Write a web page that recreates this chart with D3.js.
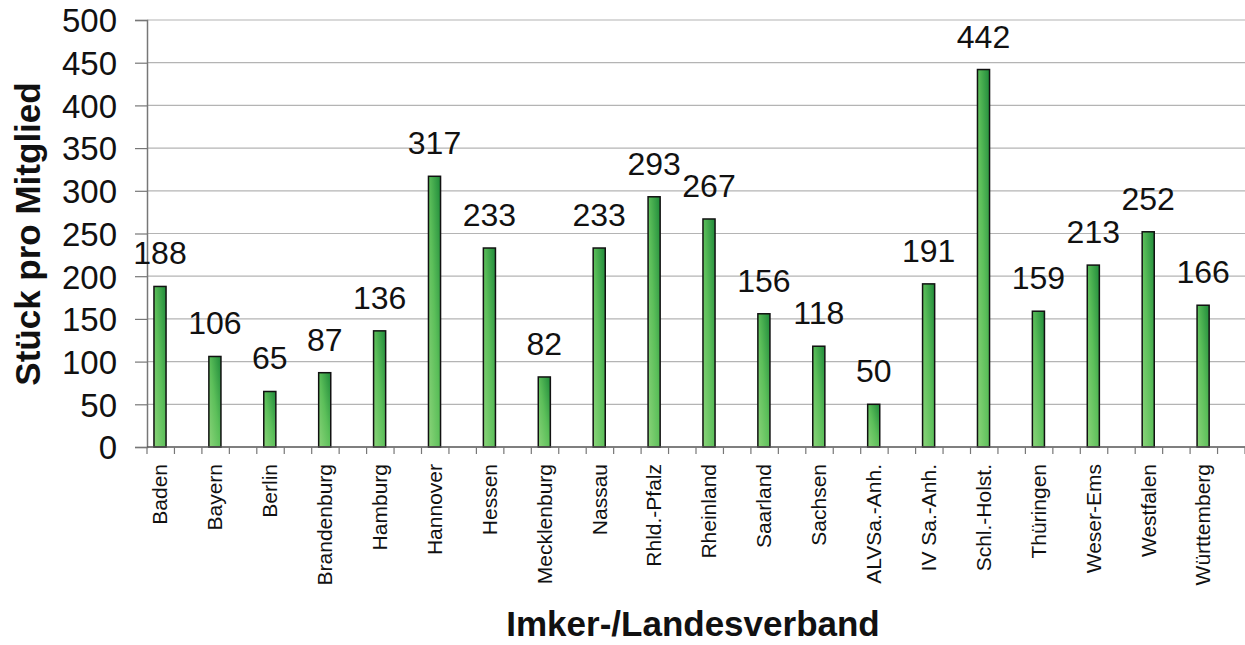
<!DOCTYPE html>
<html>
<head>
<meta charset="utf-8">
<script src="https://cdn.jsdelivr.net/npm/d3@7"></script>
<style>
  body { margin: 0; background: #fff; }
  text { font-family: "Liberation Sans", Arial, sans-serif; }
</style>
</head>
<body>
<svg id="chart"></svg>
<script>
// data
var categories = ["Baden", "Bayern", "Berlin", "Brandenburg", "Hamburg", "Hannover", "Hessen",
    "Mecklenburg", "Nassau", "Rhld.-Pfalz", "Rheinland", "Saarland", "Sachsen", "ALVSa.-Anh.",
    "IV Sa.-Anh.", "Schl.-Holst.", "Thüringen", "Weser-Ems", "Westfalen", "Württemberg"];
var values = [188, 106, 65, 87, 136, 317, 233, 82, 233, 293, 267, 156, 118, 50, 191, 442, 159, 213, 252, 166];
var yTicks = [0, 50, 100, 150, 200, 250, 300, 350, 400, 450, 500];

const W = 1245, H = 645;
const LEFT = 147, RIGHT = 1245, TOP = 20, BOTTOM = 447;

var svg = d3.select('#chart').attr('width', W).attr('height', H);

var defs = svg.append('defs');
var grad = defs.append('linearGradient').attr('id', 'barGrad')
    .attr('x1', 0).attr('y1', 1).attr('x2', 1).attr('y2', 0);
grad.append('stop').attr('offset', '0%').attr('stop-color', '#8bd47a');
grad.append('stop').attr('offset', '50%').attr('stop-color', '#5cbf5a');
grad.append('stop').attr('offset', '100%').attr('stop-color', '#1f8a3a');

var x = d3.scaleBand().domain(categories).range([LEFT, RIGHT]).paddingInner(0).paddingOuter(0);
var y = d3.scaleLinear().domain([0, 500]).range([BOTTOM, TOP]);

var bw = x.bandwidth();
var barX = function (d, i) { return x(categories[i]) + bw * 0.127; };
var barW = bw * 0.22;
var barC = function (d, i) { return barX(d, i) + barW / 2; };

// gridlines
svg.append('g')
    .selectAll('line')
    .data(yTicks.slice(1))
    .enter()
    .append('line')
    .attr('x1', LEFT).attr('x2', RIGHT)
    .attr('y1', function (d) { return y(d) }).attr('y2', function (d) { return y(d) })
    .attr('stroke', '#b4b4b4').attr('stroke-width', 1.2);

// left axis
var yAxis = svg.append('g')
    .attr('transform', 'translate(' + LEFT + ',0)')
    .call(d3.axisLeft(y).tickValues(yTicks).tickSize(12).tickPadding(18));
yAxis.select('.domain').attr('stroke', '#777').attr('stroke-width', 1.5);
yAxis.selectAll('.tick line').attr('stroke', '#777').attr('stroke-width', 1.2);
yAxis.selectAll('text')
    .style('font-size', '33px')
    .style('fill', '#111')
    .attr('dy', '0.36em');

// bars
svg.append('g')
    .selectAll('rect')
    .data(values)
    .enter()
    .append('rect')
    .attr('x', barX)
    .attr('y', function (d) { return y(d) })
    .attr('width', barW)
    .attr('height', function (d) { return BOTTOM - y(d) })
    .attr('fill', 'url(#barGrad)')
    .attr('stroke', '#111')
    .attr('stroke-width', 1.5);

// value labels
svg.append('g')
    .selectAll('text')
    .data(values)
    .enter()
    .append('text')
    .text(function (d) { return d })
    .attr('x', barC)
    .attr('y', function (d) { return y(d) - 22 })
    .style('text-anchor', 'middle')
    .style('font-size', '32px')
    .style('fill', '#111');

// bottom axis: line and half-band ticks
var halfTicks = d3.range(categories.length * 2 + 1).map(function (k) { return LEFT + k * bw / 2; });
svg.append('line')
    .attr('x1', LEFT).attr('x2', RIGHT)
    .attr('y1', BOTTOM).attr('y2', BOTTOM)
    .attr('stroke', '#555').attr('stroke-width', 1.5);
svg.append('g')
    .selectAll('line')
    .data(halfTicks)
    .enter()
    .append('line')
    .attr('x1', function (d) { return d }).attr('x2', function (d) { return d })
    .attr('y1', BOTTOM).attr('y2', BOTTOM + 7)
    .attr('stroke', '#777').attr('stroke-width', 1.2);

// category labels
svg.append('g')
    .selectAll('text')
    .data(categories)
    .enter()
    .append('text')
    .text(function (d) { return d })
    .attr('transform', function (d, i) { return 'translate(' + barC(values[i], i) + ',464) rotate(-90)' })
    .attr('dy', '0.35em')
    .style('text-anchor', 'end')
    .style('font-size', '21px')
    .style('fill', '#111');

// axis titles
svg.append('text')
    .text('Stück pro Mitglied')
    .attr('transform', 'translate(28,234) rotate(-90)')
    .attr('dy', '0.35em')
    .style('text-anchor', 'middle')
    .style('font-weight', '700')
    .style('font-size', '35px')
    .style('fill', '#111');

svg.append('text')
    .text('Imker-/Landesverband')
    .attr('x', 693)
    .attr('y', 636)
    .style('text-anchor', 'middle')
    .style('font-weight', '700')
    .style('font-size', '35px')
    .style('fill', '#111');
</script>
</body>
</html>
